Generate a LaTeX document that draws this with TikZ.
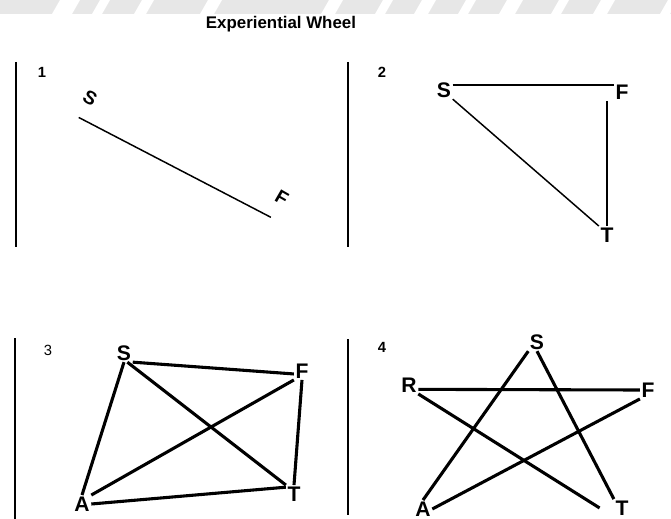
\documentclass[tikz,border=0pt]{standalone}
\usepackage{fontspec}
\setmainfont{Liberation Sans}
\usepackage{tikz}
\usetikzlibrary{positioning}
\definecolor{ewgrey}{RGB}{231,231,231}
\tikzset{
  bar/.style={line width=1.9pt},
  link/.style={line width=2.2pt},
  linkthin/.style={line width=1.05pt},
  vtx/.style={font=\fontsize{15}{17}\selectfont\bfseries, inner sep=1pt},
  vtxtilt/.style={vtx, font=\fontsize{13.5}{15}\selectfont\bfseries,
                  rotate=-30, inner xsep=1pt, inner ysep=11pt},
  num/.style={font=\fontsize{10.5}{12}\selectfont\bfseries, inner sep=0pt},
  ttl/.style={font=\fontsize{12}{14}\selectfont\bfseries},
}

\begin{document}
\begin{tikzpicture}[x=0.025cm, y=-0.025cm]
\useasboundingbox (0,0) rectangle (671,519);
\clip (0,0) rectangle (671,519);
% faint band at the top
\fill[ewgrey] (0,0) rectangle (671,14);
\foreach \x/\w in {62/20,97/10,140/12,207/14,328/14,380/10,421/14,463/10,507/16,556/10,600/14,665/10}
  \fill[white] (\x-\w/2,14) -- (\x+\w/2,14) -- (\x+\w/2+8,0) -- (\x-\w/2+8,0) -- cycle;

\node[ttl] (title) at (281,24) {Experiential Wheel};

% 1
\draw[bar] (16,62) -- (16,247);
\node[num] (n1) at (42,72) {1};
\node[vtxtilt] (s1) at (90,98) {S};
\node[vtxtilt] (f1) at (282,198) {F};
\draw[linkthin] (s1.south) -- (f1.south);

% 2
\draw[bar] (348,62) -- (348,247);
\node[num] (n2) at (382,72) {2};
\node[vtx] (s2) at (444,90) {S};
\node[vtx] (f2) at (622,92) {F};
\node[vtx] (t2) at (607,235) {T};
\draw[linkthin] (s2.30) -- (s2.30 -| f2.west);
\draw[linkthin] (s2.south east) -- (t2.north west);
\draw[linkthin] (t2.north |- f2.south) -- (t2.north);

% 3
\draw[bar] (15,338) -- (15,519);
\node[num, font=\fontsize{10.5}{12}\selectfont] (n3) at (48,350) {3};
\node[vtx] (s3) at (124,353) {S};
\node[vtx] (f3) at (302,371) {F};
\node[vtx] (t3) at (294,494) {T};
\node[vtx] (a3) at (82,504) {A};
\draw[link] (s3.south east) -- (f3.200);
\draw[link] (s3.south) -- (a3.north);
\draw[link] (s3.-70) -- (t3.north west);
\draw[link] (f3.south west) -- (a3.north east);
\draw[link] (f3.south) -- (t3.north);
\draw[link] (a3.east) -- (t3.140);

% 4
\draw[bar] (348,339) -- (348,515);
\node[num] (n4) at (382,347) {4};
\node[vtx] (s4) at (537,342) {S};
\node[vtx] (r4) at (409,385) {R};
\node[vtx] (f4) at (648,390) {F};
\node[vtx] (a4) at (423,509) {A};
\node[vtx] (t4) at (622,508) {T};
\draw[link] (r4.-25) -- (f4.west);
\draw[link] (s4.south west) -- (a4.north);
\draw[link] (s4.south) -- (t4.north west);
\draw[link] (f4.south west) -- (a4.east);
\draw[link, shorten >=12pt] (r4.south east) -- (t4.south west);
\end{tikzpicture}
\end{document}
